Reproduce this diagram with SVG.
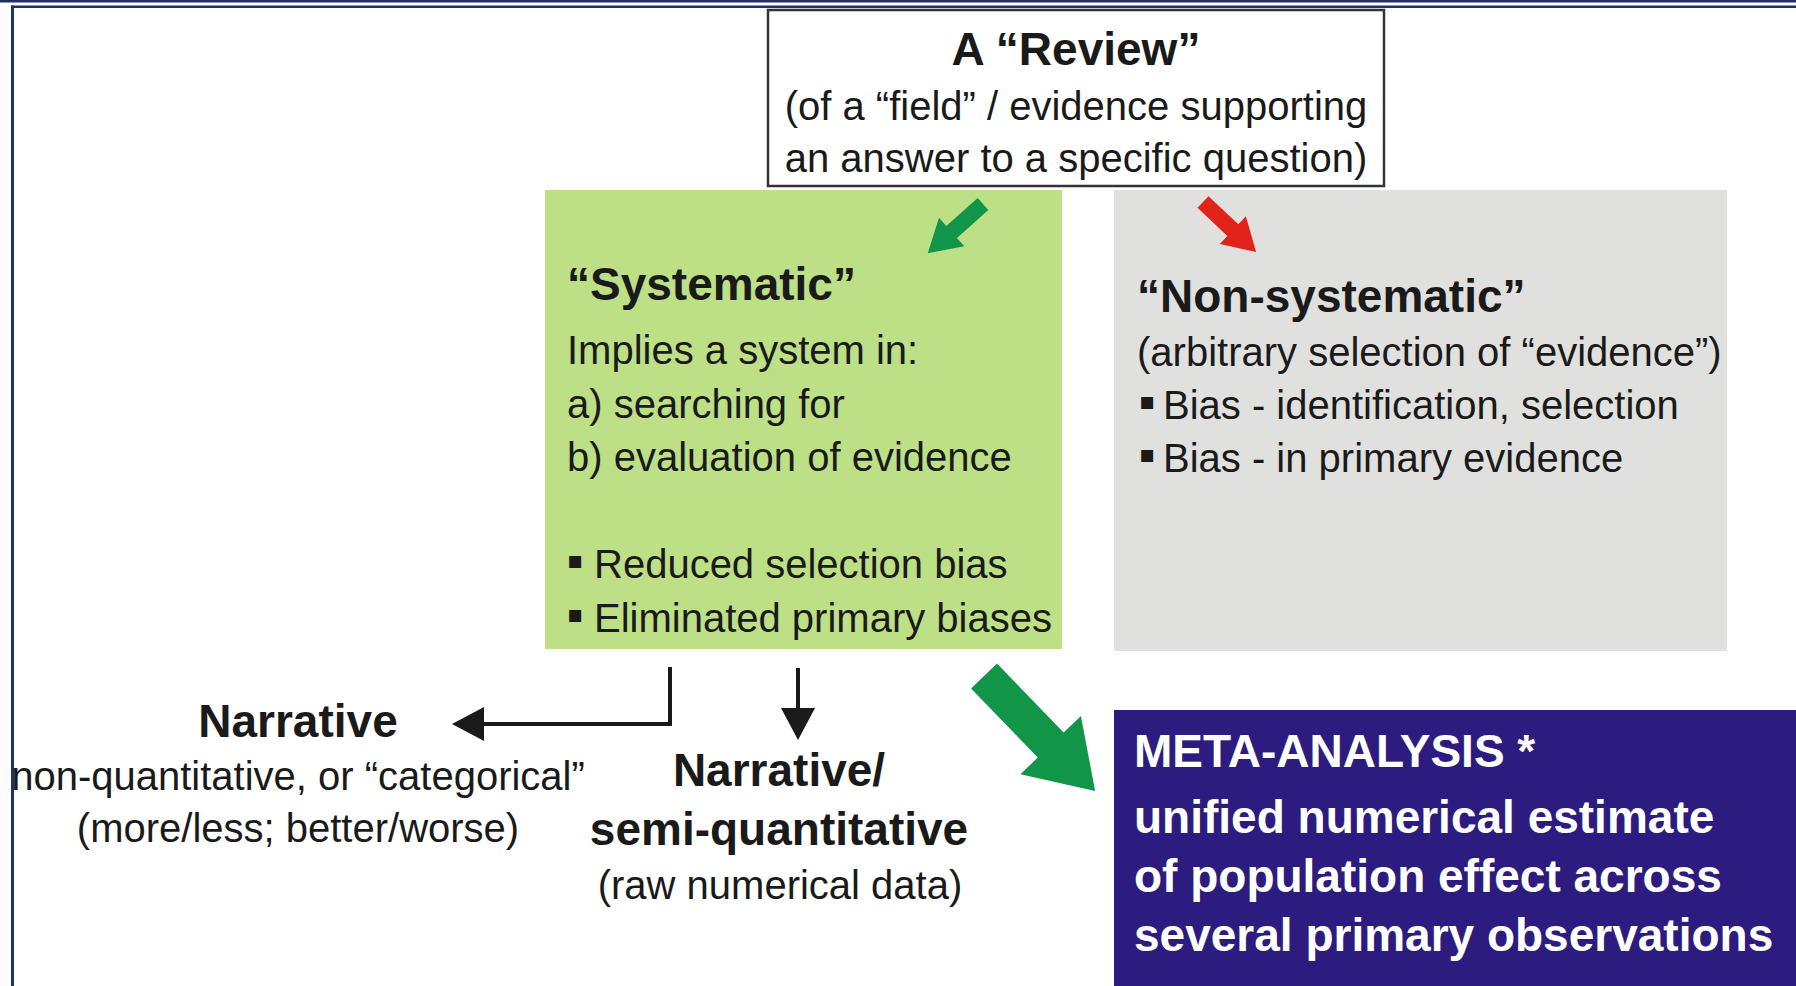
<svg xmlns="http://www.w3.org/2000/svg" width="1796" height="986" viewBox="0 0 1796 986">
<style>
.t{font-family:"Liberation Sans",Arial,sans-serif;fill:#1a1a1a}
.r{font-size:40px}
.h{font-size:46px;font-weight:bold}
.w{fill:#ffffff;font-weight:bold;font-size:46px}
.c{text-anchor:middle}
.bul{font-family:"DejaVu Sans",sans-serif;font-size:24px;fill:#1a1a1a}
.ln{stroke:#1a1a1a;stroke-width:4;fill:none}
</style>
<rect width="1796" height="986" fill="#ffffff"/>
<g id="frame">
<rect x="0" y="0" width="1796" height="2.5" fill="#1f2f68"/>
<rect x="11" y="5.5" width="1785" height="2.5" fill="#1c3370"/>
<rect x="11" y="5.5" width="3" height="981" fill="#1c3370"/>
</g>
<g id="review">
<rect x="768" y="10" width="616" height="176" fill="#ffffff" stroke="#333333" stroke-width="2.5"/>
<text class="t h c" x="1076" y="65">A “Review”</text>
<text class="t r c" x="1076" y="120">(of a “field” / evidence supporting</text>
<text class="t r c" x="1076" y="172">an answer to a specific question)</text>
</g>
<g id="systematic">
<rect x="545" y="190" width="517" height="459" fill="#bddf86"/>
<text class="t h" x="567" y="300">“Systematic”</text>
<text class="t r" x="567" y="364">Implies a system in:</text>
<text class="t r" x="567" y="418">a) searching for</text>
<text class="t r" x="567" y="471">b) evaluation of evidence</text>
<text class="bul" x="567" y="568">▪</text>
<text class="t r" x="594" y="578">Reduced selection bias</text>
<text class="bul" x="567" y="622">▪</text>
<text class="t r" x="594" y="632">Eliminated primary biases</text>
</g>
<g id="nonsystematic">
<rect x="1114" y="190" width="613" height="461" fill="#e0e0de"/>
<text class="t h" x="1137" y="312">“Non-systematic”</text>
<text class="t r" x="1137" y="366">(arbitrary selection of “evidence”)</text>
<text class="bul" x="1139" y="409">▪</text>
<text class="t r" x="1163" y="419">Bias - identification, selection</text>
<text class="bul" x="1139" y="462">▪</text>
<text class="t r" x="1163" y="472">Bias - in primary evidence</text>
</g>
<g id="narrative">
<text class="t h c" x="298" y="737">Narrative</text>
<text class="t r c" x="298" y="790">non-quantitative, or “categorical”</text>
<text class="t r c" x="298" y="842">(more/less; better/worse)</text>
</g>
<g id="semiquant">
<text class="t h c" x="779" y="786">Narrative/</text>
<text class="t h c" x="779" y="845">semi-quantitative</text>
<text class="t r c" x="780" y="899">(raw numerical data)</text>
</g>
<g id="meta">
<rect x="1114" y="710" width="682" height="276" fill="#2c1c80"/>
<text class="t w" x="1134" y="767">META-ANALYSIS *</text>
<text class="t w" x="1134" y="833">unified numerical estimate</text>
<text class="t w" x="1134" y="892">of population effect across</text>
<text class="t w" x="1134" y="951">several primary observations</text>
</g>
<g id="connectors">
<polygon transform="translate(983,204) rotate(138.3)" points="0,-8 42,-8 42,-19 74,0 42,19 42,8 0,8" fill="#119548"/>
<polygon transform="translate(1203,202) rotate(43.3)" points="0,-8 41,-8 41,-19 73,0 41,19 41,8 0,8" fill="#e2231a"/>
<polygon transform="translate(984,676) rotate(46)" points="0,-18 96,-18 96,-42 160,0 96,42 96,18 0,18" fill="#119548"/>
<polyline class="ln" points="670,667 670,724 482,724"/>
<polygon points="452,724 484,707 484,741" fill="#1a1a1a"/>
<line class="ln" x1="798" y1="668" x2="798" y2="710"/>
<polygon points="798,740 781,708 815,708" fill="#1a1a1a"/>
</g>
</svg>
